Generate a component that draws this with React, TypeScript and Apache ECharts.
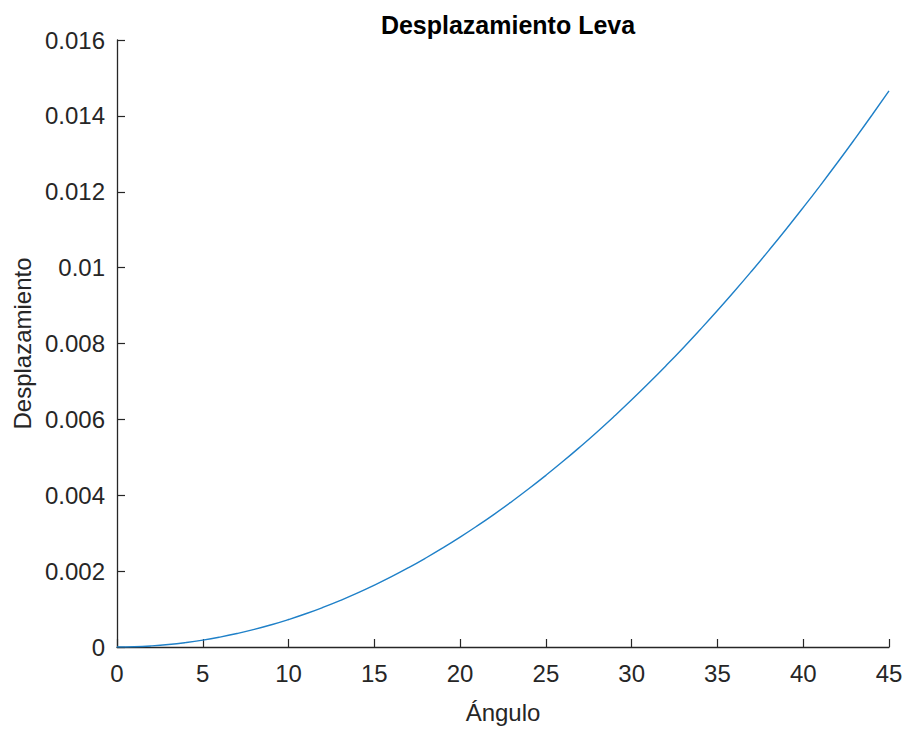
import React, { useEffect, useRef } from "react";
import * as echarts from "echarts";

const angles: number[] = [
  0, 1, 2, 3, 4, 5, 6, 7, 8, 9, 10, 11, 12, 13, 14, 15, 16, 17, 18, 19, 20, 21, 22,
  23, 24, 25, 26, 27, 28, 29, 30, 31, 32, 33, 34, 35, 36, 37, 38, 39, 40, 41, 42, 43,
  44, 45,
];
const displacement: number[] = [
  0, 0.0000072, 0.000029, 0.000065, 0.000116, 0.000181, 0.000261, 0.000355, 0.000463,
  0.000586, 0.000724, 0.000876, 0.001043, 0.001224, 0.001419, 0.001629, 0.001853,
  0.002092, 0.002346, 0.002614, 0.002896, 0.003193, 0.003504, 0.00383, 0.00417,
  0.004525, 0.004894, 0.005278, 0.005676, 0.006089, 0.006516, 0.006958, 0.007414,
  0.007884, 0.00837, 0.008869, 0.009383, 0.009912, 0.010455, 0.011012, 0.011584,
  0.01217, 0.012771, 0.013387, 0.014017, 0.014661,
];

const titleText = "Desplazamiento Leva";
const xName = "Ángulo";
const yName = "Desplazamiento";

export default function App() {
  const ref = useRef<HTMLDivElement>(null);
  useEffect(() => {
    document.body.style.margin = "0";
    if (!ref.current) return;
    const chart = echarts.init(ref.current, undefined, { renderer: "svg" });
    const font = "Liberation Sans, Arial, Helvetica, sans-serif";
    const axisColor = "#262626";
    chart.setOption({
      animation: false,
      backgroundColor: "#ffffff",
      title: {
        text: titleText,
        left: 503,
        top: 7,
        textAlign: "center",
        textStyle: { fontFamily: font, fontSize: 25, fontWeight: "bold", color: "#000000" },
      },
      grid: { left: 117, right: 18, top: 40, bottom: 78, containLabel: false },
      xAxis: {
        type: "value",
        min: 0,
        max: 45,
        interval: 5,
        name: xName,
        nameLocation: "middle",
        nameGap: 53,
        nameTextStyle: { fontFamily: font, fontSize: 24, color: axisColor },
        axisLine: { show: true, lineStyle: { color: axisColor, width: 1.3 } },
        axisTick: { show: true, inside: true, length: 8, lineStyle: { color: axisColor, width: 1.2 } },
        axisLabel: { fontFamily: font, fontSize: 24, color: axisColor, margin: 14 },
        splitLine: { show: false },
      },
      yAxis: {
        type: "value",
        min: 0,
        max: 0.016,
        interval: 0.002,
        name: yName,
        nameLocation: "middle",
        nameGap: 82,
        nameTextStyle: { fontFamily: font, fontSize: 24, color: axisColor },
        axisLine: { show: true, lineStyle: { color: axisColor, width: 1.3 } },
        axisTick: { show: true, inside: true, length: 8, lineStyle: { color: axisColor, width: 1.2 } },
        axisLabel: {
          fontFamily: font,
          fontSize: 24,
          color: axisColor,
          margin: 12,
          formatter: (v: number) => String(parseFloat(v.toFixed(3))),
        },
        splitLine: { show: false },
      },
      series: [
        {
          type: "line",
          data: angles.map((a, i) => [a, displacement[i]]),
          showSymbol: false,
          smooth: true,
          lineStyle: { color: "#1f80c8", width: 1.4 },
          itemStyle: { color: "#1f80c8" },
        },
      ],
    });
    return () => chart.dispose();
  }, []);
  return <div ref={ref} style={{ width: 907, height: 729 }} />;
}
